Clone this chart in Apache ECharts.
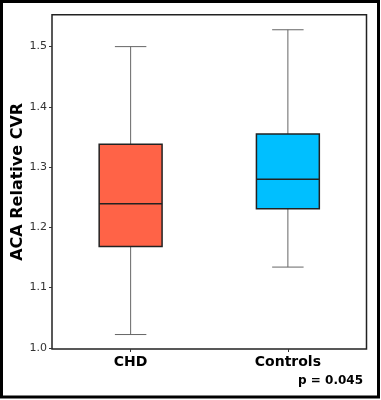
<!DOCTYPE html>
<html>
<head>
<meta charset="utf-8">
<script src="https://cdn.jsdelivr.net/npm/echarts@6/dist/echarts.min.js"></script>
<style>
  html, body { margin: 0; padding: 0; background: #fff; }
  #main { width: 381px; height: 400px; }
</style>
</head>
<body>
<div id="main"></div>
<script>
// box statistics
var categories = ['CHD', 'Controls'];
var whiskerLow = [1.022, 1.134];
var q1 = [1.168, 1.231];
var median = [1.239, 1.280];
var q3 = [1.338, 1.355];
var whiskerHigh = [1.500, 1.528];
var yTicks = [1.0, 1.1, 1.2, 1.3, 1.4, 1.5];
var boxColors = ['#FF6347', '#00BFFF'];

var chartDom = document.getElementById('main');
var myChart = echarts.init(chartDom);
var option;

var boxData = categories.map(function (c, i) {
    return [i, whiskerLow[i], q1[i], median[i], q3[i], whiskerHigh[i]];
});

function renderBox(params, api) {
    var idx = api.value(0);
    var band = api.size([1, 0])[0];
    var halfBox = band * 0.2;
    var halfCap = band * 0.1;
    var lo = api.coord([idx, api.value(1)]);
    var b1 = api.coord([idx, api.value(2)]);
    var md = api.coord([idx, api.value(3)]);
    var b3 = api.coord([idx, api.value(4)]);
    var hi = api.coord([idx, api.value(5)]);
    var cx = lo[0];
    var whisker = { stroke: '#666', lineWidth: 1 };
    return {
        type: 'group',
        children: [
            { type: 'line', shape: { x1: cx, y1: lo[1], x2: cx, y2: b1[1] }, style: whisker },
            { type: 'line', shape: { x1: cx, y1: b3[1], x2: cx, y2: hi[1] }, style: whisker },
            { type: 'line', shape: { x1: cx - halfCap, y1: lo[1], x2: cx + halfCap, y2: lo[1] }, style: whisker },
            { type: 'line', shape: { x1: cx - halfCap, y1: hi[1], x2: cx + halfCap, y2: hi[1] }, style: whisker },
            {
                type: 'rect',
                shape: { x: cx - halfBox, y: b3[1], width: halfBox * 2, height: b1[1] - b3[1] },
                style: { fill: boxColors[idx], stroke: '#222', lineWidth: 1.5 }
            },
            {
                type: 'line',
                shape: { x1: cx - halfBox, y1: md[1], x2: cx + halfBox, y2: md[1] },
                style: { stroke: '#222', lineWidth: 1.5 }
            }
        ]
    };
}

option = {
    animation: false,
    textStyle: { fontFamily: 'DejaVu Sans' },
    grid: {
        left: 52,
        right: 14.5,
        top: 14.7,
        bottom: 51,
        outerBoundsMode: 'none',
        containLabel: false,
        show: true,
        borderColor: '#222',
        borderWidth: 1.5
    },
    xAxis: {
        type: 'category',
        data: categories,
        axisLine: { show: false },
        axisTick: { show: true, alignWithLabel: true, length: 3, lineStyle: { color: '#333' } },
        axisLabel: { color: '#000', fontWeight: 'bold', fontSize: 14, margin: 6 },
        splitLine: { show: false }
    },
    yAxis: {
        type: 'value',
        min: 0.998,
        max: 1.553,
        name: 'ACA Relative CVR',
        nameLocation: 'middle',
        nameGap: 26,
        nameMoveOverlap: false,
        nameTextStyle: { color: '#000', fontWeight: 'bold', fontSize: 16 },
        axisLine: { show: false },
        axisTick: { show: true, length: 3, customValues: yTicks, lineStyle: { color: '#333' } },
        axisLabel: {
            color: '#333', fontSize: 11, margin: 5, customValues: yTicks,
            formatter: function (v) { return v.toFixed(1); }
        },
        splitLine: { show: false }
    },
    graphic: [
        {
            type: 'rect',
            shape: { x: 1.5, y: 1.5, width: 377, height: 395.5 },
            style: { fill: 'none', stroke: '#000', lineWidth: 3 }
        },
        {
            type: 'text',
            right: 18,
            top: 375,
            style: { text: 'p = 0.045', fill: '#000', font: 'bold 12px "DejaVu Sans"' }
        }
    ],
    series: [{
        type: 'custom',
        renderItem: renderBox,
        encode: { x: 0, y: [1, 2, 3, 4, 5] },
        data: boxData
    }]
};

option && myChart.setOption(option);
</script>
</body>
</html>
